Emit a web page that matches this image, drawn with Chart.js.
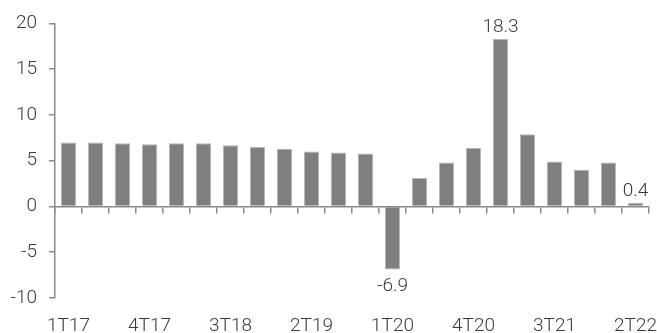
<!DOCTYPE html>
<html>
<head>
<meta charset="utf-8">
<script src="https://cdn.jsdelivr.net/npm/chart.js@4.4.1/dist/chart.umd.min.js"></script>
<style>
  html, body { margin: 0; padding: 0; background: #ffffff; }
  #wrap { width: 657px; height: 333px; position: relative; }
</style>
</head>
<body>
<div id="wrap"><canvas id="chart"></canvas></div>
<script>
// Quarterly growth, %
const quarters = [
  '1T17', '2T17', '3T17', '4T17',
  '1T18', '2T18', '3T18', '4T18',
  '1T19', '2T19', '3T19', '4T19',
  '1T20', '2T20', '3T20', '4T20',
  '1T21', '2T21', '3T21', '4T21',
  '1T22', '2T22'
];
const growth = [
  7.0, 7.0, 6.9, 6.8,
  6.9, 6.9, 6.7, 6.5,
  6.3, 6.0, 5.9, 5.8,
  -6.9, 3.1, 4.8, 6.4,
  18.3, 7.9, 4.9, 4.0,
  4.8, 0.4
];
const labelledQuarters = ['1T20', '1T21', '2T22'];
const yTicks = [-10, -5, 0, 5, 10, 15, 20];

const FONT = { family: 'Roboto', size: 19, weight: '300' };
const TEXT = '#3a3a3a';
const AXIS = '#8a8a8a';

// Writes the value above (or below, for negatives) the selected bars
const valueLabels = {
  id: 'valueLabels',
  afterDatasetsDraw(chart) {
    const ctx = chart.ctx;
    const meta = chart.getDatasetMeta(0);
    ctx.save();
    ctx.font = `${FONT.weight} ${FONT.size}px ${FONT.family}`;
    ctx.fillStyle = TEXT;
    ctx.textAlign = 'center';
    quarters.forEach((q, i) => {
      if (!labelledQuarters.includes(q)) return;
      const bar = meta.data[i];
      const v = growth[i];
      if (v >= 0) {
        ctx.textBaseline = 'bottom';
        ctx.fillText(v.toFixed(1), bar.x, bar.y - 2);
      } else {
        ctx.textBaseline = 'top';
        ctx.fillText(v.toFixed(1), bar.x, bar.y + 7);
      }
    });
    ctx.restore();
  }
};

// keep the plot width independent of label overflow
function noSidePadding(scale) {
  scale.paddingLeft = 0;
  scale.paddingRight = 0;
}

new Chart(document.getElementById('chart'), {
  type: 'bar',
  data: {
    labels: quarters,
    datasets: [{
      data: growth,
      backgroundColor: '#7f7f7f',
      borderColor: '#b5b5b5',
      borderWidth: 1,
      barPercentage: 0.56,
      categoryPercentage: 1.0,
      xAxisID: 'x'
    }]
  },
  options: {
    responsive: true,
    maintainAspectRatio: false,
    animation: false,
    events: [],
    layout: { padding: { top: 14, right: 8, left: 0, bottom: 0 } },
    plugins: { legend: { display: false }, tooltip: { enabled: false } },
    scales: {
      // zero line with the category tick marks
      x: {
        type: 'category',
        position: { y: 0 },
        offset: true,
        border: { display: true, color: AXIS, width: 1.5 },
        grid: { display: true, offset: true, drawOnChartArea: false, drawTicks: true, tickLength: 6, color: AXIS, lineWidth: 1.5 },
        ticks: { display: false },
        afterFit: noSidePadding
      },
      // category labels along the bottom
      x2: {
        type: 'category',
        labels: quarters,
        position: 'bottom',
        offset: true,
        border: { display: false },
        grid: { display: false, drawTicks: false },
        ticks: {
          autoSkip: false,
          maxRotation: 0,
          padding: 17,
          color: TEXT,
          font: FONT,
          callback: (val, i) => (i % 3 === 0 ? quarters[i] : '')
        },
        afterFit(scale) { scale.height = 35; noSidePadding(scale); }
      },
      y: {
        min: -10,
        max: 20,
        afterBuildTicks(scale) { scale.ticks = yTicks.map(v => ({ value: v })); },
        border: { display: true, color: AXIS, width: 1.5 },
        grid: { drawOnChartArea: false, drawTicks: true, tickLength: 6, color: AXIS, lineWidth: 1.5 },
        ticks: { padding: 12, color: TEXT, font: FONT },
        afterFit(scale) { scale.width = 55; }
      }
    }
  },
  plugins: [valueLabels]
});
</script>
</body>
</html>
